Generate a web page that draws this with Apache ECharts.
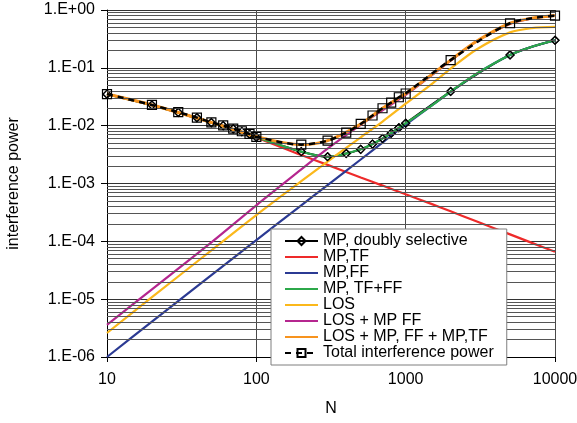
<!DOCTYPE html>
<html>
<head>
<meta charset="utf-8">
<title>interference power vs N</title>
<script src="https://cdn.jsdelivr.net/npm/echarts@6/dist/echarts.min.js"></script>
<style>
  html, body { margin: 0; padding: 0; background: #fff; }
  #chart { width: 577px; height: 423px; }
</style>
</head>
<body>
<div id="chart"></div>
<script>
// N where the marker series have points
var nMarks = [10, 20, 30, 40, 50, 60, 70, 80, 90, 100, 200, 300, 400, 500, 600, 700, 800, 900, 1000, 2000, 5000, 10000];
// N for the plain curves
var nLine = [10, 20, 50, 100, 200, 300, 500, 700, 1000, 1500, 2000, 3000, 5000, 7000, 10000];

// MP, doubly selective (diamonds)
var mpDoubly = [0.0351, 0.0227, 0.0170, 0.0137, 0.0113, 0.0100, 0.0088, 0.0079, 0.0071, 0.0063,
  0.00355, 0.0029, 0.0033, 0.0039, 0.0048, 0.0060, 0.0074, 0.0092, 0.0110, 0.039, 0.167, 0.30];
// Total interference power (squares)
var totalPower = [0.0352, 0.0228, 0.0171, 0.0138, 0.0114, 0.0101, 0.0089, 0.0080, 0.0072, 0.0064,
  0.0047, 0.0055, 0.0076, 0.0107, 0.0150, 0.0200, 0.0250, 0.0310, 0.0360, 0.136, 0.59, 0.80];

var mpTF = [0.0350, 0.0226, 0.0112, 0.0062, 0.0031, 0.0021, 0.00127, 0.00092, 0.00065, 0.00044, 0.00033, 0.00022, 0.000132, 0.000094, 0.000066];
var mpFF = [1.0e-6, 4.1e-6, 2.6e-5, 1.05e-4, 4.2e-4, 9.4e-4, 0.0026, 0.0051, 0.0104, 0.0225, 0.0385, 0.0795, 0.166, 0.231, 0.30];
var mpTFFF = [0.0351, 0.0227, 0.0113, 0.0063, 0.00355, 0.0029, 0.0039, 0.0060, 0.0110, 0.0225, 0.039, 0.080, 0.167, 0.232, 0.30];
var los = [2.6e-6, 1.08e-5, 7.0e-5, 2.85e-4, 1.1e-3, 2.4e-3, 6.3e-3, 0.0118, 0.024, 0.053, 0.097, 0.21, 0.41, 0.485, 0.51];
var losMpFF = [3.6e-6, 1.48e-5, 9.6e-5, 4.2e-4, 1.75e-3, 4.0e-3, 0.0103, 0.0185, 0.034, 0.075, 0.133, 0.29, 0.575, 0.715, 0.80];
var losAll = [0.0352, 0.0228, 0.0114, 0.0065, 0.0047, 0.0055, 0.0107, 0.0200, 0.0360, 0.077, 0.136, 0.29, 0.59, 0.72, 0.80];

var names = ['MP, doubly selective', 'MP,TF', 'MP,FF', 'MP, TF+FF', 'LOS', 'LOS + MP FF', 'LOS + MP, FF + MP,TF', 'Total interference power'];

function pairs(xs, ys) {
  return xs.map(function (x, i) { return [x, ys[i]]; });
}

// horizontal lines at 2..9 inside every decade
var minorLines = [];
for (var d = -6; d < 0; d++) {
  for (var m = 2; m <= 9; m++) {
    minorLines.push({ yAxis: m * Math.pow(10, d) });
  }
}

var font = 'Liberation Sans, Arial, sans-serif';
var hidden = { color: 'rgba(0,0,0,0)', borderColor: 'rgba(0,0,0,0)', borderWidth: 0, opacity: 0 };

function curve(name, data, color) {
  return {
    name: name,
    type: 'line',
    data: data,
    symbol: 'none',
    smooth: 0.3,
    lineStyle: { color: color, width: 2.2 },
    itemStyle: { color: color },
    z: 3
  };
}

// legend entries: plain curves show only their line
var legendData = names.map(function (n, i) {
  if (i === 0 || i === 7) return { name: n };
  return { name: n, itemStyle: hidden };
});

var chart = echarts.init(document.getElementById('chart'));
var option = {
  animation: false,
  backgroundColor: '#fff',
  grid: { left: 107, right: 22, top: 10, bottom: 66, outerBoundsMode: 'none' },
  legend: {
    data: legendData,
    orient: 'vertical',
    left: 271,
    top: 229,
    padding: [4, 13, 4, 13],
    itemWidth: 33,
    itemHeight: 10,
    itemGap: 0,
    backgroundColor: '#fff',
    borderColor: '#7f7f7f',
    borderWidth: 1,
    textStyle: { fontFamily: font, fontSize: 16, color: '#000', lineHeight: 14 },
    z: 10
  },
  xAxis: {
    type: 'log',
    logBase: 10,
    min: 10,
    max: 10000,
    splitNumber: 3,
    name: 'N',
    nameLocation: 'middle',
    nameGap: 44,
    nameTextStyle: { fontFamily: font, fontSize: 16, color: '#000' },
    axisLine: { lineStyle: { color: '#000', width: 1 } },
    axisTick: { show: true, length: 5, lineStyle: { color: '#000' } },
    axisLabel: {
      fontFamily: font, fontSize: 16, color: '#000', margin: 15,
      formatter: function (v) { return String(Math.round(v)); }
    },
    splitLine: { show: true, lineStyle: { color: '#4a4a4a', width: 1 } }
  },
  yAxis: {
    type: 'log',
    logBase: 10,
    min: 1e-6,
    max: 1,
    splitNumber: 6,
    name: 'interference power',
    nameLocation: 'middle',
    nameGap: 85,
    nameTextStyle: { fontFamily: font, fontSize: 16, color: '#000' },
    axisLine: { show: true, lineStyle: { color: '#000', width: 1 } },
    axisTick: { show: true, length: 6, lineStyle: { color: '#000' } },
    axisLabel: {
      fontFamily: font, fontSize: 16, color: '#000', margin: 12,
      formatter: function (v) {
        var e = Math.round(Math.log10(v));
        return '1.E' + (e < 0 ? '-' : '+') + (Math.abs(e) < 10 ? '0' : '') + Math.abs(e);
      }
    },
    splitLine: { show: true, lineStyle: { color: '#333', width: 1 } }
  },
  series: [
    {
      name: 'minor grid',
      type: 'line',
      data: [],
      silent: true,
      z: 1,
      markLine: {
        silent: true,
        precision: 12,
        symbol: ['none', 'none'],
        label: { show: false },
        lineStyle: { color: '#555', width: 1, type: 'solid' },
        data: minorLines
      }
    },
    {
      name: names[0],
      type: 'line',
      data: pairs(nMarks, mpDoubly),
      smooth: 0.3,
      symbol: 'diamond',
      symbolSize: 8,
      lineStyle: { color: '#000', width: 2 },
      itemStyle: { color: 'rgba(0,0,0,0)', borderColor: '#000', borderWidth: 1.2 },
      z: 2
    },
    curve(names[1], pairs(nLine, mpTF), '#ee2a2a'),
    curve(names[2], pairs(nLine, mpFF), '#2b3a93'),
    curve(names[3], pairs(nLine, mpTFFF), '#2ca84a'),
    curve(names[4], pairs(nLine, los), '#fbb81b'),
    curve(names[5], pairs(nLine, losMpFF), '#b5268f'),
    Object.assign(curve(names[6], pairs(nLine, losAll), '#f7931e'), { lineStyle: { color: '#f7931e', width: 3 } }),
    {
      // diamonds redrawn above the green curve
      name: 'doubly marks',
      type: 'line',
      data: pairs(nMarks, mpDoubly),
      symbol: 'diamond',
      symbolSize: 8,
      lineStyle: { opacity: 0 },
      itemStyle: { color: 'rgba(0,0,0,0)', borderColor: '#000', borderWidth: 1.2 },
      z: 4
    },
    {
      name: names[7],
      type: 'line',
      data: pairs(nMarks, totalPower),
      smooth: 0.3,
      symbol: 'rect',
      symbolSize: 9,
      lineStyle: { color: '#000', width: 2.5, type: [6, 5] },
      itemStyle: { color: 'rgba(0,0,0,0)', borderColor: '#000', borderWidth: 1.2 },
      z: 5
    }
  ]
};
chart.setOption(option);
</script>
</body>
</html>
